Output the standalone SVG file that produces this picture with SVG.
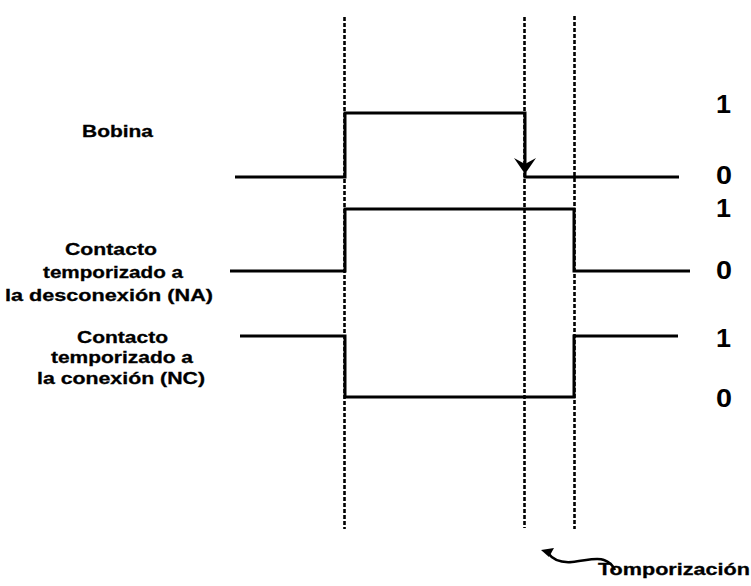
<svg xmlns="http://www.w3.org/2000/svg" width="751" height="586" viewBox="0 0 751 586">
  <style>
    .lbl { font-family: "Liberation Sans", Arial, sans-serif; font-weight: bold; font-size: 17px; fill: #000; stroke: #000; stroke-width: 0.3; }
    .lvl { font-family: "Liberation Sans", Arial, sans-serif; font-weight: bold; font-size: 25px; fill: #000; }
    .wave { fill: none; stroke: #000; stroke-width: 3; stroke-linejoin: miter; }
    .guide { fill: none; stroke: #000; stroke-width: 2.6; stroke-dasharray: 4 2; }
  </style>
  <rect width="751" height="586" fill="#fff"/>

  <!-- time markers -->
  <g id="guides">
    <line class="guide" x1="344.5" y1="17" x2="344.5" y2="529"/>
    <line class="guide" x1="524.5" y1="17" x2="524.5" y2="528"/>
    <line class="guide" x1="574.5" y1="16" x2="574.5" y2="529"/>
  </g>

  <!-- signal traces -->
  <g id="connectors">
    <path id="bobina-trace" class="wave" d="M235,177 H345 V113 H525 V166 M525,172 V177 H679"/>
    <polygon points="514,158 525,164 536,158 525,174" fill="#000"/>
    <path id="na-trace" class="wave" d="M230,271 H345 V209 H574 V271 H690"/>
    <path id="nc-trace" class="wave" d="M240,336 H345 V397 H574 V336 H678"/>
    <path id="delay-arrow" fill="none" stroke="#000" stroke-width="2.5" d="M548,553 C553,560 560,563 572,562 C585,561 596,557 604,560 C610,562 613,566 615,570"/>
    <polygon points="541,550 554,548 549,557" fill="#000"/>
  </g>

  <g id="bobina">
    <text class="lbl" x="82" y="137" textLength="71" lengthAdjust="spacingAndGlyphs">Bobina</text>
  </g>

  <g id="contacto-na">
    <text class="lbl" x="65" y="255" textLength="92" lengthAdjust="spacingAndGlyphs">Contacto</text>
    <text class="lbl" x="43" y="278" textLength="140" lengthAdjust="spacingAndGlyphs">temporizado a</text>
    <text class="lbl" x="5" y="301" textLength="208" lengthAdjust="spacingAndGlyphs">la desconexión (NA)</text>
  </g>

  <g id="contacto-nc">
    <text class="lbl" x="77" y="343" textLength="91" lengthAdjust="spacingAndGlyphs">Contacto</text>
    <text class="lbl" x="51" y="363" textLength="142" lengthAdjust="spacingAndGlyphs">temporizado a</text>
    <text class="lbl" x="37" y="384" textLength="168" lengthAdjust="spacingAndGlyphs">la conexión (NC)</text>
  </g>

  <g id="niveles">
    <text class="lvl" x="716" y="113" textLength="15" lengthAdjust="spacingAndGlyphs">1</text>
    <text class="lvl" x="716" y="184" textLength="16" lengthAdjust="spacingAndGlyphs">0</text>
    <text class="lvl" x="716" y="217" textLength="15" lengthAdjust="spacingAndGlyphs">1</text>
    <text class="lvl" x="716" y="279" textLength="16" lengthAdjust="spacingAndGlyphs">0</text>
    <text class="lvl" x="716" y="347" textLength="15" lengthAdjust="spacingAndGlyphs">1</text>
    <text class="lvl" x="716" y="407" textLength="16" lengthAdjust="spacingAndGlyphs">0</text>
  </g>

  <g id="temporizacion">
    <text class="lbl" x="598" y="575" textLength="152" lengthAdjust="spacingAndGlyphs">Tomporización</text>
  </g>
</svg>
